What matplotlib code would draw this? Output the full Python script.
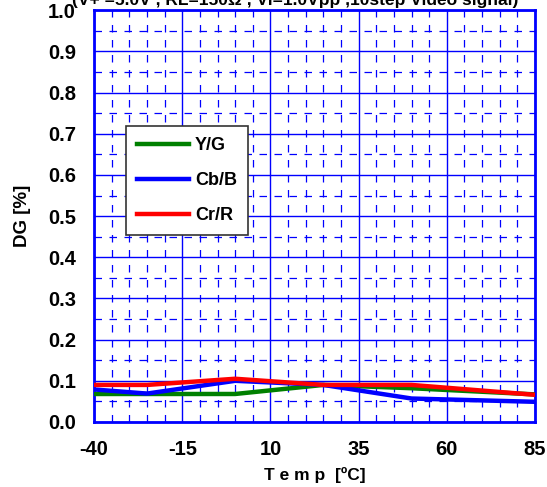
import numpy as np
import matplotlib.pyplot as plt

plt.rcParams['font.family'] = ['Liberation Sans', 'DejaVu Sans']
plt.rcParams['axes.unicode_minus'] = False

temp = [-40, -25, 0, 25, 50, 85]
yg = [0.068, 0.068, 0.068, 0.090, 0.082, 0.067]
cbb = [0.079, 0.069, 0.100, 0.090, 0.057, 0.049]
crr = [0.090, 0.090, 0.105, 0.090, 0.090, 0.066]

xticks = [-40, -15, 10, 35, 60, 85]
yticks = np.round(np.arange(0, 1.01, 0.1), 1)

fig = plt.figure(figsize=(5.47, 4.87), dpi=100)
ax = fig.add_axes([0.172, 0.1335, 0.806, 0.8455])

ax.plot(temp, yg, color='#008000', lw=3.2, label='Y/G', zorder=3)
ax.plot(temp, cbb, color='#0000ff', lw=3.2, label='Cb/B', zorder=3)
ax.plot(temp, crr, color='#ff0000', lw=3.2, label='Cr/R', zorder=3)

ax.set_xlim(-40, 85)
ax.set_ylim(0, 1.0)
ax.set_xticks(xticks)
ax.set_yticks(yticks)
ax.set_yticklabels(['%.1f' % v for v in yticks])
ax.set_xticks(np.arange(-40, 86, 5), minor=True)
ax.set_yticks(np.arange(0, 1.0, 0.05), minor=True)

ax.grid(which='major', color='#0000ff', lw=1.0, ls='-')
ax.grid(which='minor', color='#0000ff', lw=0.9, ls=(0, (6, 6)))
ax.set_axisbelow(True)
for s in ax.spines.values():
    s.set_color('#0000ff')
    s.set_linewidth(2)

ax.tick_params(which='both', length=0)
ax.tick_params(axis='x', pad=13, labelsize=14.5)
ax.tick_params(axis='y', pad=13, labelsize=14.5)
for t in ax.get_xticklabels() + ax.get_yticklabels():
    t.set_fontweight('bold')

ax.set_xlabel('T e m p  [ºC]', fontsize=12.5, fontweight='bold', labelpad=6)
ax.set_ylabel('DG [%]', fontsize=13.5, fontweight='bold', labelpad=12)

fig.text(0.54, 1.0, '(V+ =5.0V , RL=150\u03a9 , Vi=1.0Vpp ,10step Video signal)',
         ha='center', va='center', fontsize=12.5, fontweight='bold')

leg = ax.legend(loc='upper left', bbox_to_anchor=(0.073, 0.718),
                prop={'weight': 'bold', 'size': 13}, frameon=True, fancybox=False,
                edgecolor='#333333', framealpha=1, handlelength=2.9,
                labelspacing=1.0, borderpad=0.6, handletextpad=0.3,
                borderaxespad=0)
leg.get_frame().set_linewidth(1.2)

fig.savefig('out.png', dpi=100)
